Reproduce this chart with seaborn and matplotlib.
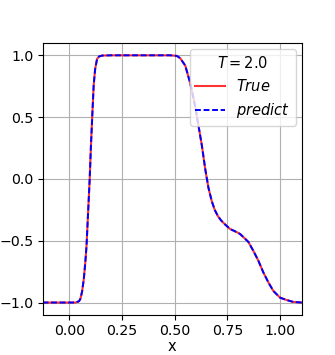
import matplotlib
matplotlib.use("Agg")
import matplotlib.pyplot as plt
import seaborn as sns

x_vals = [-0.128, -0.05, 0.0, 0.028, 0.045, 0.052, 0.06, 0.068, 0.075, 0.081, 0.0885,
          0.096, 0.102, 0.109, 0.115, 0.122, 0.131, 0.14, 0.155, 0.2, 0.3, 0.4, 0.48,
          0.51, 0.526, 0.55, 0.573, 0.597, 0.613, 0.629, 0.645, 0.66, 0.676, 0.69,
          0.705, 0.72, 0.739, 0.763, 0.794, 0.81, 0.826, 0.85, 0.873, 0.897, 0.921, 0.945,
          0.968, 1.0, 1.032, 1.063, 1.104]
y_true = [-1.0, -1.0, -1.0, -1.0, -0.99, -0.97, -0.91, -0.81, -0.68, -0.54, -0.27,
          0.0, 0.27, 0.54, 0.76, 0.89, 0.97, 0.99, 0.998, 1.0, 1.0, 1.0, 1.0,
          0.995, 0.977, 0.917, 0.78, 0.59, 0.43, 0.27, 0.08, -0.07, -0.18, -0.25,
          -0.30, -0.335, -0.368, -0.405, -0.43, -0.445, -0.47, -0.51, -0.58, -0.66, -0.756, -0.837,
          -0.905, -0.96, -0.98, -0.995, -1.0]
y_pred = [-1.0, -1.0, -1.0, -1.0, -0.99, -0.97, -0.91, -0.81, -0.68, -0.54, -0.27,
          0.0, 0.27, 0.54, 0.76, 0.89, 0.97, 0.99, 0.998, 1.0, 1.0, 1.0, 1.0,
          0.995, 0.977, 0.917, 0.78, 0.59, 0.43, 0.27, 0.08, -0.07, -0.18, -0.25,
          -0.30, -0.335, -0.368, -0.405, -0.43, -0.445, -0.47, -0.51, -0.58, -0.66, -0.756, -0.837,
          -0.905, -0.96, -0.98, -0.995, -1.0]
x_ticks = [0.0, 0.25, 0.5, 0.75, 1.0]
y_ticks = [-1.0, -0.5, 0.0, 0.5, 1.0]

fig = plt.figure(figsize=(3.35, 3.55), dpi=100)
ax = fig.add_axes([0.127, 0.113, 0.774, 0.766])

sns.lineplot(x=x_vals, y=y_true, color="red", alpha=0.8, linewidth=1.5, label=r"$True$",
             ax=ax, sort=False, estimator=None)
sns.lineplot(x=x_vals, y=y_pred, color="blue", linewidth=1.4, linestyle=(0, (3.0, 1.4)),
             label=r"$predict$", ax=ax, sort=False, estimator=None)

ax.set_xlim(-0.128, 1.104)
ax.set_ylim(-1.1, 1.1)
ax.set_xticks(x_ticks)
ax.set_yticks(y_ticks)
ax.tick_params(labelsize=10.2, pad=3)
ax.grid(True, color="#b0b0b0", linewidth=0.8)
ax.set_xlabel("x", fontsize=10.5, labelpad=1)
ax.legend(title=r"$T = 2.0$", loc="upper right", fontsize=10.5, title_fontsize=10.5,
          borderaxespad=0.4)

fig.savefig("out.png", dpi=100)
